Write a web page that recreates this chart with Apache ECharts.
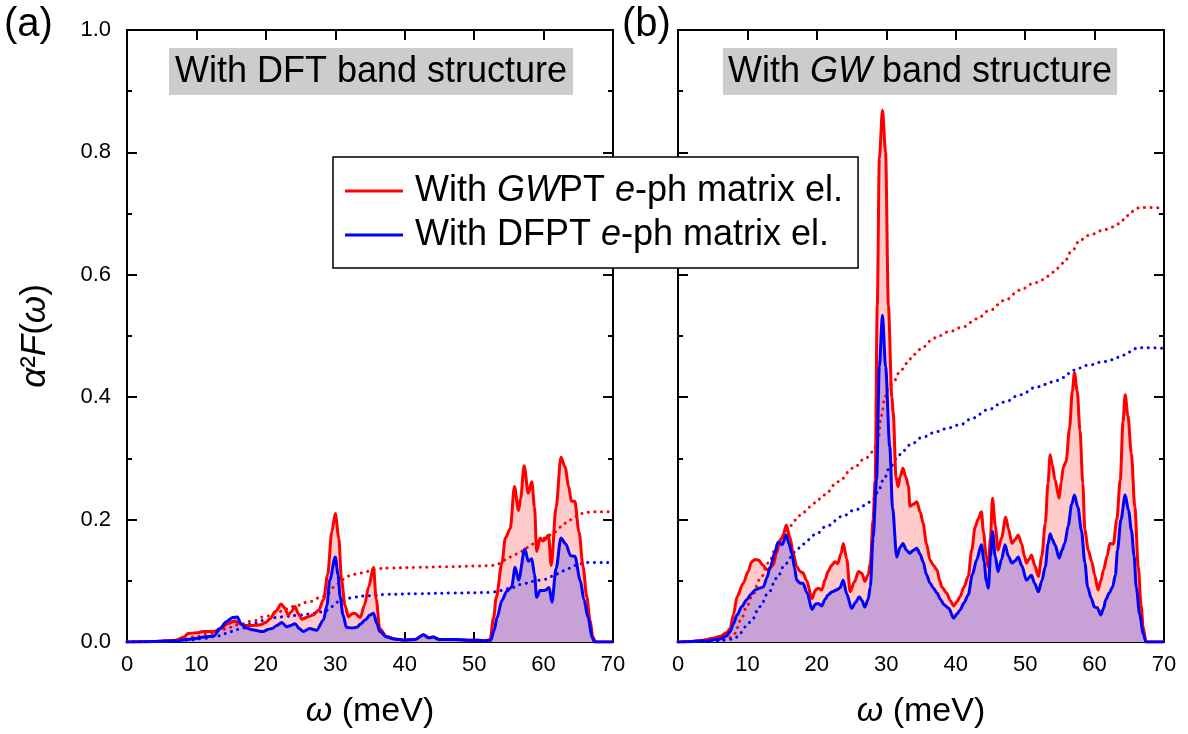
<!DOCTYPE html>
<html>
<head>
<meta charset="utf-8">
<script src="https://cdn.jsdelivr.net/npm/echarts@6/dist/echarts.min.js"></script>
<style>
  html, body { margin: 0; padding: 0; background: #fff; }
  #chart { width: 1188px; height: 734px; }
</style>
</head>
<body>
<div id="chart"></div>
<script>
// Eliashberg function α²F(ω) and its cumulative λ-like integral, two band-structure cases.
// Each series is a list of [ω (meV), value] pairs.

// (a) DFT band structure
const aGwpt = [[0,0],[4,0.001],[7,0.003],[8.2,0.008],[8.8,0.014],[10,0.015],[11,0.017],[12.5,0.017],[13.5,0.022],[14.5,0.030],[15.5,0.034],[16.3,0.030],[17,0.027],[18,0.027],[19.2,0.028],[20,0.032],[20.6,0.038],[21.4,0.050],[22.2,0.062],[22.7,0.056],[23.2,0.044],[23.7,0.050],[24.2,0.058],[24.7,0.046],[25.2,0.037],[26,0.041],[26.8,0.044],[27.6,0.052],[28.3,0.069],[28.9,0.110],[29.5,0.180],[30.0,0.210],[30.5,0.170],[30.9,0.101],[31.4,0.060],[31.9,0.041],[32.4,0.046],[32.8,0.047],[33.6,0.040],[34.2,0.060],[34.8,0.090],[35.5,0.122],[35.9,0.070],[36.4,0.022],[37.4,0.009],[38.5,0.005],[40,0.003],[41.5,0.004],[42.7,0.012],[43.4,0.007],[44.1,0.008],[45,0.004],[47,0.004],[49,0.003],[50.5,0.003],[51.5,0.002],[52.3,0.004],[52.8,0.040],[53.2,0.074],[54.0,0.129],[54.5,0.170],[55.2,0.185],[55.8,0.254],[56.4,0.215],[56.7,0.235],[57.2,0.288],[57.8,0.243],[58.3,0.262],[58.7,0.220],[59.0,0.148],[59.5,0.170],[59.9,0.165],[60.2,0.167],[60.7,0.175],[61.1,0.125],[61.8,0.220],[62.5,0.302],[63.1,0.286],[63.6,0.255],[64.0,0.230],[64.5,0.230],[65.1,0.180],[65.7,0.123],[66.2,0.075],[66.7,0.036],[67.1,0.008],[67.5,0],[70,0]];
const aDfpt = [[0,0],[4,0.001],[7,0.002],[8.5,0.004],[10,0.006],[11,0.008],[12.5,0.010],[13.4,0.022],[14.3,0.033],[15.2,0.040],[15.9,0.041],[16.4,0.030],[17.2,0.023],[18,0.020],[19.6,0.017],[20.4,0.021],[20.9,0.022],[21.6,0.027],[22.3,0.032],[23.0,0.025],[23.6,0.027],[24.2,0.030],[24.8,0.022],[25.4,0.017],[26.3,0.022],[27.3,0.019],[28.3,0.036],[28.8,0.060],[29.2,0.101],[30.0,0.139],[30.4,0.110],[30.7,0.074],[31.1,0.045],[31.6,0.024],[32.4,0.023],[33.1,0.024],[33.7,0.030],[34.3,0.036],[35.0,0.044],[35.5,0.047],[36.0,0.030],[36.4,0.017],[37.4,0.008],[38.5,0.005],[40,0.003],[41.5,0.004],[42.7,0.012],[43.4,0.007],[44.1,0.008],[45,0.004],[47,0.004],[49,0.003],[50.5,0.003],[51.5,0.002],[52.4,0.003],[52.9,0.020],[53.3,0.040],[54.0,0.068],[54.7,0.083],[55.4,0.090],[55.9,0.122],[56.4,0.101],[57.3,0.152],[57.8,0.132],[58.3,0.136],[58.7,0.110],[59.0,0.073],[59.5,0.084],[60.2,0.084],[60.8,0.089],[61.2,0.065],[61.8,0.120],[62.5,0.170],[63.2,0.160],[63.9,0.141],[64.5,0.140],[65.3,0.100],[65.8,0.070],[66.4,0.040],[67.0,0.008],[67.3,0],[70,0]];
const aGwptCum = [[0,0],[6,0.001],[8,0.004],[10,0.009],[12,0.014],[14,0.021],[16,0.028],[18,0.034],[20,0.042],[22,0.050],[24,0.058],[26,0.065],[28,0.073],[29,0.080],[30,0.092],[31,0.102],[32,0.108],[33,0.111],[34,0.113],[35,0.116],[36,0.120],[38,0.121],[42,0.122],[46,0.123],[50,0.124],[52.5,0.125],[53.5,0.128],[54.5,0.134],[55.5,0.140],[56.5,0.146],[57.5,0.154],[58.5,0.160],[59.5,0.165],[60.5,0.172],[61.5,0.179],[62.5,0.188],[63.5,0.197],[64.5,0.205],[65.5,0.210],[66.5,0.212],[68,0.213],[70,0.213]];
const aDfptCum = [[0,0],[7,0.001],[9,0.003],[11,0.006],[13.2,0.010],[15,0.017],[16.5,0.022],[18,0.030],[20,0.036],[21.5,0.040],[23,0.042],[25,0.044],[27,0.047],[28.5,0.050],[29.5,0.058],[30.5,0.066],[31.5,0.070],[32.6,0.073],[34,0.075],[35.5,0.076],[37.5,0.078],[42,0.079],[47,0.080],[52.3,0.081],[54,0.084],[55.5,0.089],[57,0.095],[58.5,0.099],[60,0.102],[61.5,0.108],[62.5,0.115],[63.5,0.120],[64.5,0.125],[65.5,0.128],[66.5,0.130],[70,0.130]];

// (b) GW band structure
const bGwpt = [[0,0],[2,0.001],[3.6,0.003],[5,0.006],[6,0.009],[7,0.015],[7.5,0.022],[8,0.045],[8.5,0.074],[9.4,0.096],[10.1,0.115],[10.6,0.131],[11.1,0.135],[11.6,0.134],[12.2,0.126],[12.8,0.118],[13.3,0.121],[13.7,0.126],[14.2,0.145],[14.7,0.167],[15.1,0.172],[15.6,0.191],[16.1,0.172],[16.6,0.145],[17.1,0.123],[17.6,0.115],[18.0,0.113],[18.5,0.101],[19.3,0.071],[19.8,0.085],[20.2,0.088],[20.7,0.085],[21.2,0.102],[21.6,0.115],[22.1,0.125],[22.6,0.131],[23.0,0.128],[23.5,0.145],[23.8,0.161],[24.3,0.136],[24.8,0.082],[25.4,0.098],[26.0,0.115],[26.5,0.112],[26.9,0.099],[27.4,0.110],[27.7,0.129],[28.1,0.20],[28.4,0.265],[28.7,0.55],[29.0,0.79],[29.45,0.869],[29.9,0.80],[30.3,0.55],[30.8,0.40],[31.0,0.374],[31.4,0.27],[31.7,0.254],[32.0,0.27],[32.4,0.284],[32.8,0.270],[33.2,0.254],[33.4,0.222],[33.9,0.225],[34.4,0.229],[34.9,0.212],[35.3,0.194],[35.8,0.160],[36.3,0.134],[36.8,0.125],[37.3,0.118],[37.7,0.100],[38.0,0.090],[38.7,0.080],[39.2,0.068],[39.7,0.059],[40.2,0.066],[40.6,0.074],[41.2,0.090],[41.8,0.107],[42.3,0.150],[42.8,0.188],[43.2,0.200],[43.7,0.213],[44.0,0.180],[44.4,0.140],[44.7,0.122],[45.0,0.170],[45.3,0.235],[45.7,0.190],[46.1,0.150],[46.6,0.170],[47.2,0.204],[47.6,0.185],[48.1,0.161],[48.6,0.168],[49.0,0.175],[49.5,0.160],[49.9,0.140],[50.2,0.129],[50.6,0.136],[50.9,0.142],[51.4,0.125],[51.9,0.107],[52.4,0.140],[52.9,0.194],[53.3,0.260],[53.6,0.306],[53.9,0.290],[54.3,0.265],[54.9,0.235],[55.2,0.262],[55.5,0.286],[55.9,0.295],[56.4,0.350],[56.8,0.410],[57.1,0.440],[57.5,0.410],[57.9,0.346],[58.3,0.260],[58.6,0.183],[59.1,0.150],[59.6,0.131],[60.0,0.110],[60.5,0.085],[60.9,0.100],[61.3,0.118],[61.8,0.140],[62.2,0.161],[62.7,0.160],[63.2,0.200],[63.7,0.265],[64.1,0.360],[64.4,0.404],[64.8,0.370],[65.3,0.308],[65.8,0.220],[66.3,0.123],[66.7,0.060],[67.0,0.025],[67.4,0],[70,0]];
const bDfpt = [[0,0],[2,0.001],[4,0.002],[6,0.005],[7,0.010],[7.5,0.017],[8,0.030],[8.5,0.044],[9.2,0.058],[9.9,0.069],[10.5,0.078],[11.1,0.085],[11.7,0.088],[12.3,0.090],[12.8,0.105],[13.3,0.123],[13.9,0.145],[14.4,0.163],[15.0,0.159],[15.6,0.175],[16.0,0.160],[16.4,0.145],[16.8,0.120],[17.1,0.101],[17.6,0.096],[18.0,0.096],[18.6,0.080],[19.3,0.053],[19.8,0.062],[20.2,0.063],[20.7,0.059],[21.2,0.070],[21.6,0.077],[22.2,0.082],[22.8,0.085],[23.3,0.088],[23.8,0.101],[24.3,0.079],[25.0,0.055],[25.6,0.065],[26.1,0.074],[26.5,0.068],[26.9,0.057],[27.4,0.070],[27.7,0.090],[28.1,0.17],[28.6,0.265],[29.0,0.45],[29.45,0.534],[29.9,0.45],[30.5,0.319],[30.9,0.22],[31.5,0.139],[32.0,0.155],[32.4,0.161],[32.9,0.150],[33.4,0.145],[33.9,0.150],[34.4,0.153],[34.9,0.143],[35.3,0.131],[35.8,0.110],[36.3,0.096],[36.8,0.088],[37.3,0.080],[37.8,0.070],[38.3,0.061],[39.0,0.055],[39.7,0.039],[40.2,0.046],[40.6,0.052],[41.2,0.064],[41.8,0.077],[42.4,0.110],[43.0,0.134],[43.7,0.159],[44.1,0.130],[44.4,0.100],[44.7,0.088],[45.0,0.140],[45.3,0.180],[45.7,0.140],[46.1,0.115],[46.6,0.135],[47.1,0.159],[47.6,0.140],[48.1,0.129],[48.6,0.133],[49.0,0.139],[49.5,0.125],[50.2,0.101],[50.9,0.109],[51.4,0.095],[51.9,0.082],[52.4,0.100],[52.9,0.123],[53.3,0.160],[53.6,0.177],[53.9,0.168],[54.3,0.159],[54.9,0.137],[55.3,0.150],[55.7,0.161],[56.2,0.190],[56.7,0.225],[57.1,0.240],[57.6,0.220],[58.1,0.183],[58.6,0.130],[59.0,0.090],[59.5,0.072],[60.0,0.057],[60.4,0.056],[60.9,0.044],[61.3,0.055],[61.6,0.069],[62.1,0.080],[62.6,0.090],[63.0,0.110],[63.3,0.150],[63.8,0.200],[64.4,0.240],[64.9,0.215],[65.3,0.183],[65.7,0.140],[66.0,0.090],[66.5,0.045],[67.0,0.014],[67.4,0],[70,0]];
const bGwptCum = [[0,0],[5,0.001],[7,0.004],[8.2,0.014],[9,0.035],[10,0.060],[10.6,0.074],[11.8,0.102],[13,0.129],[14.2,0.155],[15.4,0.178],[16.2,0.190],[16.9,0.199],[18,0.212],[19.7,0.227],[21,0.240],[23.1,0.262],[25.2,0.284],[27,0.300],[28.1,0.311],[28.8,0.33],[29.3,0.37],[29.8,0.40],[30.3,0.415],[31,0.425],[32,0.442],[32.9,0.455],[34,0.470],[35.3,0.482],[36.5,0.493],[37.3,0.499],[39,0.507],[41.1,0.515],[43,0.528],[44.9,0.542],[47,0.558],[49.3,0.575],[51,0.585],[52.6,0.592],[54,0.604],[55.5,0.619],[56.8,0.640],[57.9,0.657],[59.5,0.666],[61.3,0.673],[62.5,0.678],[63.7,0.684],[64.5,0.695],[65.3,0.703],[66.1,0.709],[67,0.710],[70,0.709]];
const bDfptCum = [[0,0],[5,0.001],[7,0.003],[8.2,0.006],[9,0.015],[10,0.028],[10.6,0.036],[11.8,0.058],[13,0.080],[14.2,0.104],[15.4,0.126],[16.2,0.138],[16.9,0.148],[18,0.160],[19.7,0.175],[21.5,0.190],[23.6,0.205],[25.5,0.216],[27.9,0.229],[28.8,0.245],[29.6,0.265],[30.5,0.285],[31.5,0.300],[32.4,0.312],[33.4,0.322],[35.3,0.335],[37.3,0.344],[39,0.350],[40.6,0.355],[42.5,0.366],[44.5,0.379],[47,0.392],[49.3,0.404],[51.7,0.417],[54.1,0.425],[55.5,0.432],[56.9,0.444],[59,0.452],[61.3,0.458],[62.5,0.461],[63.7,0.466],[65,0.474],[66.1,0.480],[67,0.481],[70,0.480]];

// axis ticks
const xTicks = { min: 0, max: 70, interval: 10 };
const yTicks = { min: 0, max: 1, interval: 0.2 };

const GWPT_NAME = 'With GWPT e-ph matrix el.';
const DFPT_NAME = 'With DFPT e-ph matrix el.';

const FONT = '"Liberation Sans", Arial, sans-serif';
const RED = '#ff0000', BLUE = '#0000ff';
const PINK = '#ffcaca', PURPLE = '#c8a2d6';

const chart = echarts.init(document.getElementById('chart'), null, { renderer: 'canvas' });

const axisLine = { show: true, onZero: false, lineStyle: { color: '#000', width: 2 } };
const tick = { show: true, inside: true, length: 10, lineStyle: { color: '#000', width: 2 } };
const minor = { show: true, splitNumber: 2, length: 5, lineStyle: { color: '#000', width: 2 } };
const labelStyle = { color: '#000', fontSize: 22, fontFamily: FONT };

function xAxisFor(grid, bottom) {
  return Object.assign({
    type: 'value', gridIndex: grid, position: bottom ? 'bottom' : 'top',
    axisLine, axisTick: tick, splitLine: { show: false },
    axisLabel: bottom ? Object.assign({ margin: 12 }, labelStyle) : { show: false },
    name: bottom ? '{i|ω} (meV)' : '',
    nameLocation: 'middle', nameGap: 53,
    nameTextStyle: { fontSize: 34, fontFamily: FONT, color: '#000',
      rich: { i: { fontSize: 34, fontFamily: FONT, fontStyle: 'italic', color: '#000' } } }
  }, xTicks);
}
function yAxisFor(grid, left, labels) {
  return Object.assign({
    type: 'value', gridIndex: grid, position: left ? 'left' : 'right',
    axisLine, axisTick: tick, minorTick: minor, splitLine: { show: false },
    axisLabel: labels ? Object.assign({ margin: 16, formatter: v => v.toFixed(1) }, labelStyle) : { show: false },
    name: labels ? '{i|α}²{i|F}({i|ω})' : '',
    nameLocation: 'middle', nameRotate: 90, nameGap: 74,
    nameTextStyle: { fontSize: 35, fontFamily: FONT, color: '#000',
      rich: { i: { fontSize: 35, fontFamily: FONT, fontStyle: 'italic', color: '#000' } } }
  }, yTicks);
}

function panelSeries(xi, yi, gw, df, gwCum, dfCum) {
  const base = { type: 'line', xAxisIndex: xi, yAxisIndex: yi, showSymbol: false, symbol: 'none',
                 smooth: 0.3, smoothMonotone: 'x', silent: true, animation: false };
  return [
    Object.assign({}, base, { name: 'gwptFill' + xi, data: gw, lineStyle: { width: 0, opacity: 0 }, areaStyle: { color: PINK, opacity: 1 }, z: 1 }),
    Object.assign({}, base, { name: 'dfptFill' + xi, data: df, lineStyle: { width: 0, opacity: 0 }, areaStyle: { color: PURPLE, opacity: 1 }, z: 2 }),
    Object.assign({}, base, { name: GWPT_NAME, data: gwCum, smooth: 0.4, itemStyle: { color: RED }, lineStyle: { color: RED, width: 3, type: [0.1, 6.5], cap: 'round' }, z: 3 }),
    Object.assign({}, base, { name: DFPT_NAME, data: dfCum, smooth: 0.4, itemStyle: { color: BLUE }, lineStyle: { color: BLUE, width: 3, type: [0.1, 6.5], cap: 'round' }, z: 3 }),
    Object.assign({}, base, { name: GWPT_NAME, data: gw, itemStyle: { color: RED }, lineStyle: { color: RED, width: 3 }, z: 4 }),
    Object.assign({}, base, { name: DFPT_NAME, data: df, itemStyle: { color: BLUE }, lineStyle: { color: BLUE, width: 3 }, z: 5 })
  ];
}

const richItalic = { fontSize: 36, fontFamily: FONT, fontStyle: 'italic', color: '#000', lineHeight: 40 };
const richNormal = { fontSize: 36, fontFamily: FONT, color: '#000', lineHeight: 40 };

const option = {
  animation: false,
  backgroundColor: '#fff',
  grid: [
    { left: 127, top: 30, width: 486, height: 612, containLabel: false },
    { left: 678, top: 30, width: 486, height: 612, containLabel: false }
  ],
  xAxis: [xAxisFor(0, true), xAxisFor(0, false), xAxisFor(1, true), xAxisFor(1, false)],
  yAxis: [yAxisFor(0, true, true), yAxisFor(0, false, false), yAxisFor(1, true, false), yAxisFor(1, false, false)],
  legend: {
    data: [
      { name: GWPT_NAME, icon: 'rect', itemStyle: { color: RED } },
      { name: DFPT_NAME, icon: 'rect', itemStyle: { color: BLUE } }
    ],
    orient: 'vertical', left: 333, top: 157,
    backgroundColor: '#fff', borderColor: '#000', borderWidth: 1.5, borderRadius: 0,
    padding: [16, 15, 15, 12], itemGap: 8, itemWidth: 58, itemHeight: 3,
    selectedMode: false, z: 20,
    textStyle: { fontSize: 36, fontFamily: FONT, color: '#000', padding: [0, 0, 0, 7],
      rich: { n: richNormal, i: richItalic } },
    formatter: name => name === GWPT_NAME
      ? '{n|With }{i|GW}{n|PT }{i|e}{n|-ph matrix el.}'
      : '{n|With DFPT }{i|e}{n|-ph matrix el.}'
  },
  graphic: [
    { type: 'rect', shape: { x: 169, y: 48, width: 404, height: 47 }, style: { fill: '#cccccc' }, z: 10 },
    { type: 'text', x: 371, y: 72, z: 11, style: { text: 'With DFT band structure', font: '36px ' + FONT, fill: '#000', align: 'center', verticalAlign: 'middle' } },
    { type: 'rect', shape: { x: 723, y: 48, width: 394, height: 47 }, style: { fill: '#cccccc' }, z: 10 },
    { type: 'text', x: 920, y: 72, z: 11, style: {
        text: '{n|With }{i|GW}{n| band structure}', align: 'center', verticalAlign: 'middle',
        rich: { n: { font: '36px ' + FONT, fill: '#000' }, i: { font: 'italic 36px ' + FONT, fill: '#000' } } } },
    { type: 'text', x: 4, y: 25, z: 11, style: { text: '(a)', font: '40px ' + FONT, fill: '#000', verticalAlign: 'middle' } },
    { type: 'text', x: 622, y: 25, z: 11, style: { text: '(b)', font: '40px ' + FONT, fill: '#000', verticalAlign: 'middle' } }
  ],
  series: [].concat(
    panelSeries(0, 0, aGwpt, aDfpt, aGwptCum, aDfptCum),
    panelSeries(2, 2, bGwpt, bDfpt, bGwptCum, bDfptCum)
  )
};

chart.setOption(option);
</script>
</body>
</html>
